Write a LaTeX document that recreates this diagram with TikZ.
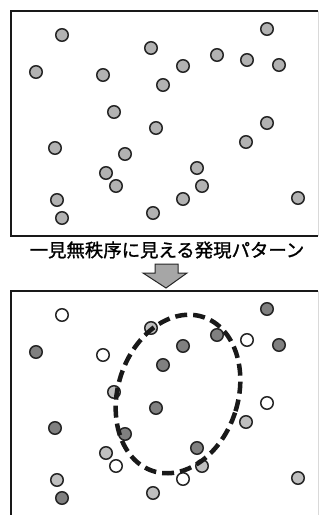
\documentclass[tikz,border=0pt]{standalone}
\usepackage{fontspec}
\newfontfamily\jp[FakeBold=1.3]{Noto Sans CJK JP}
\begin{document}
\begin{tikzpicture}[x=1pt,y=-1pt,
  dot/.style={circle,draw=black!85,line width=1.5pt,minimum size=12.5pt,inner sep=0pt},
  gtop/.style={dot,fill=black!30},
  gdark/.style={dot,fill=black!50},
  glight/.style={dot,fill=black!25},
  gwhite/.style={dot,fill=white},
  frame/.style={line width=2.6pt,black!90},
]
\useasboundingbox (0,0) rectangle (321,515);
% frames
\draw[frame] (318,11) -- (11,11) -- (11,236) -- (318,236);
\draw[black!15,line width=0.6pt] (318,11) -- (318,236);
\draw[frame] (318,291) -- (11,291) -- (11,516);
\draw[black!15,line width=0.6pt] (318,291) -- (318,515);
% top circles
\foreach \i/\x/\y in {1/62/35,2/267/29,3/151/48,4/36/72,5/103/75,6/183/66,7/217/55,8/247/60,9/279/65,10/163/85,11/114/112,12/156/128,13/267/123,14/246/142,15/55/148,16/125/154,17/197/168,18/106/173,19/116/186,20/202/186,21/183/199,22/57/200,23/298/198,24/62/218,25/153/213}
  \node[gtop] (t\i) at (\x,\y) {};
% text
\node (lbl) at (167,250) {\jp\fontsize{18.4}{20}\selectfont 一見無秩序に見える発現パターン};
% arrow
\draw[fill=black!35,draw=black!85,line width=1pt,line join=miter]
  (155,264) -- (178,264) -- (178,273) -- (187,273) -- (166,288) -- (143,273) -- (155,273) -- cycle;
% bottom circles
\foreach \i/\x/\y/\s in {1/62/35/gwhite,2/267/29/gdark,3/151/48/glight,4/36/72/gdark,5/103/75/gwhite,6/183/66/gdark,7/217/55/gdark,8/247/60/gwhite,9/279/65/gdark,10/163/85/gdark,11/114/112/glight,12/156/128/gdark,13/267/123/gwhite,14/246/142/glight,15/55/148/gdark,16/125/154/gdark,17/197/168/gdark,18/106/173/glight,19/116/186/gwhite,20/202/186/glight,21/183/199/gwhite,22/57/200/glight,23/298/198/glight,24/62/218/gdark,25/153/213/glight}
  \node[\s] (b\i) at (\x,\y+280) {};
% ellipse
\draw[black!90,line width=4.5pt,dash pattern=on 12pt off 6pt,rotate around={-18:(178,394)}]
  (178,394) ellipse [x radius=60, y radius=81];
\end{tikzpicture}
\end{document}
